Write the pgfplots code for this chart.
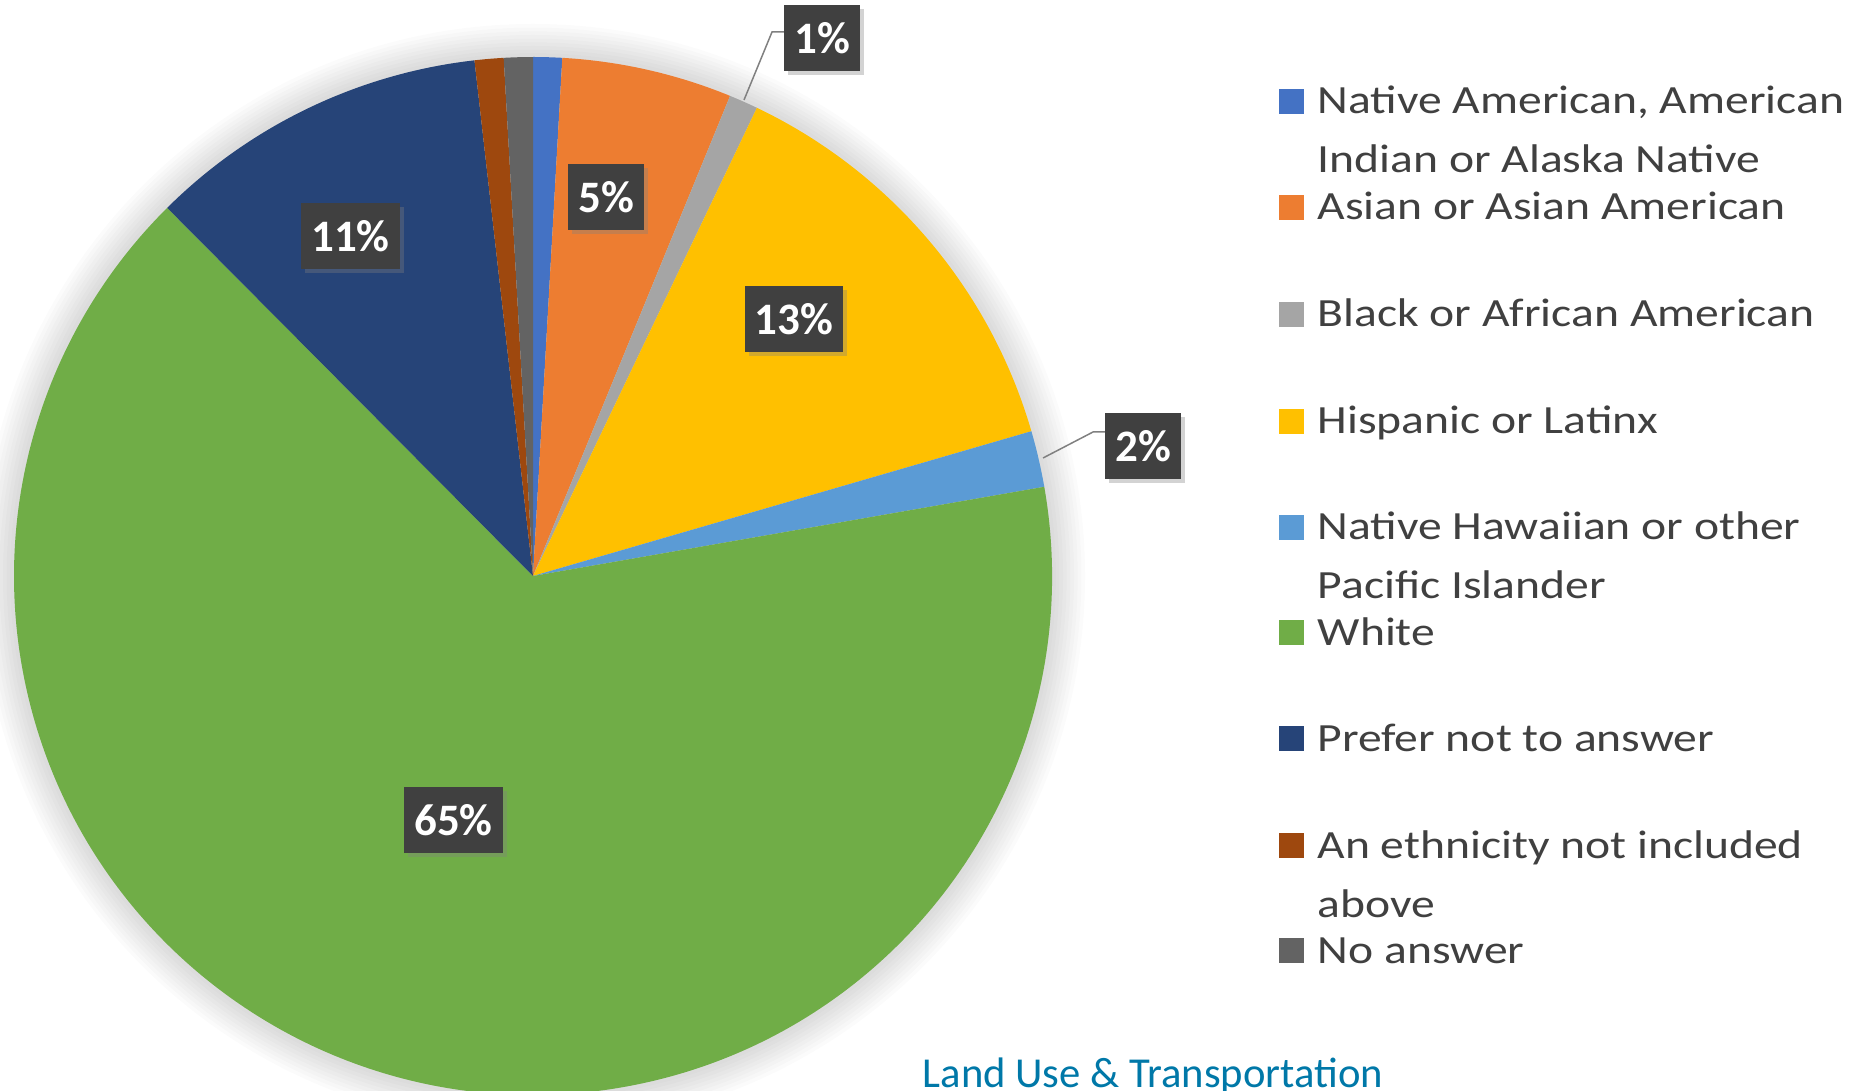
\documentclass[border=0pt]{standalone}
\usepackage{fontspec}
\setmainfont{Carlito}
\newfontfamily\legfont[FakeStretch=1.19]{Carlito}
\usepackage{pgfplots}
\pgfplotsset{compat=1.18}
\usepackage{pgfplotstable}
\usetikzlibrary{shadows}

% Office palette
\definecolor{s0}{HTML}{4472C4}
\definecolor{s1}{HTML}{ED7D31}
\definecolor{s2}{HTML}{A5A5A5}
\definecolor{s3}{HTML}{FFC000}
\definecolor{s4}{HTML}{5B9BD5}
\definecolor{s5}{HTML}{70AD47}
\definecolor{s6}{HTML}{264478}
\definecolor{s7}{HTML}{9E480E}
\definecolor{s8}{HTML}{636363}
\definecolor{legtext}{HTML}{404040}
\definecolor{lblbox}{HTML}{404040}
\definecolor{titlecol}{HTML}{0078A8}

% share of respondents (%), clockwise from 12 o'clock
\pgfplotstableread{
value
0.9
5.3
0.9
13.4
1.75
65.3
10.65
0.9
0.9
}\piedata

\def\cx{533}
\def\cy{514}
\def\R{155.7pt}

\tikzset{
  lbl/.style={fill=lblbox, text=white, font=\fontsize{13.5}{16}\selectfont\bfseries,
    minimum height=19.8pt, inner xsep=3pt, inner ysep=0pt,
    drop shadow={shadow xshift=1.2pt, shadow yshift=-1.2pt, opacity=0.35}},
  leg/.style={anchor=base west, inner sep=0pt, text=legtext, font=\legfont\fontsize{12}{14}\selectfont},
  lead/.style={draw=black!50, line width=0.45pt},
}

\newcommand{\legentry}[2]{%
  \fill[#1] (axis cs:1279,#2) rectangle (axis cs:1304,#2+25);
}

\begin{document}
\begin{tikzpicture}
\begin{axis}[
    width=559.2pt, height=327pt, scale only axis,
    xmin=0, xmax=1864, ymin=0, ymax=1090,
    hide axis,
    at={(0,0)}, anchor=south west,
]
\coordinate (SW) at (axis cs:0,0);
\coordinate (NE) at (axis cs:1864,1090);

% soft shadow around the pie
\pgfplotsforeachungrouped \k in {1,...,9}{%
  \pgfmathsetmacro\rr{155.7+1.1*\k}
  \edef\temp{\noexpand\fill[black, opacity=0.016] (axis cs:\cx,\cy) circle[radius=\rr pt];}
  \temp
}

% slices
\def\acc{0}
\pgfplotsforeachungrouped \i in {0,...,8}{%
  \pgfplotstablegetelem{\i}{value}\of\piedata
  \let\v\pgfplotsretval
  \pgfmathsetmacro\a{90-3.6*\acc}
  \pgfmathsetmacro\b{90-3.6*(\acc+\v)}
  \pgfmathsetmacro\acc{\acc+\v}
  \edef\temp{\noexpand\fill[s\i] (axis cs:\cx,\cy) -- ++(\a:\R) arc[start angle=\a, end angle=\b, radius=\R] -- cycle;}
  \temp
}

% leader lines
\draw[lead] (axis cs:744,990) -- (axis cs:772,1058) -- (axis cs:784,1058);
\draw[lead] (axis cs:1043,632) -- (axis cs:1093,658) -- (axis cs:1105,658);

% data labels
\node[lbl] at (axis cs:822,1051.5) {1\%};
\node[lbl] at (axis cs:606,893) {5\%};
\node[lbl] at (axis cs:794,771) {13\%};
\node[lbl] at (axis cs:1143,644) {2\%};
\node[lbl] at (axis cs:350.5,853.5) {11\%};
\node[lbl] at (axis cs:453.5,270) {65\%};

% legend
\legentry{s0}{976}
\node[leg] at (axis cs:1317,976) {Native American, American};
\node[leg] at (axis cs:1317,917) {Indian or Alaska Native};
\legentry{s1}{870}
\node[leg] at (axis cs:1317,870) {Asian or Asian American};
\legentry{s2}{763}
\node[leg] at (axis cs:1317,763) {Black or African American};
\legentry{s3}{656}
\node[leg] at (axis cs:1317,656) {Hispanic or Latinx};
\legentry{s4}{550}
\node[leg] at (axis cs:1317,550) {Native Hawaiian or other};
\node[leg] at (axis cs:1317,492) {Pacific Islander};
\legentry{s5}{445}
\node[leg] at (axis cs:1317,445) {White};
\legentry{s6}{339}
\node[leg] at (axis cs:1317,339) {Prefer not to answer};
\legentry{s7}{232}
\node[leg] at (axis cs:1317,232) {An ethnicity not included};
\node[leg] at (axis cs:1317,173) {above};
\legentry{s8}{127}
\node[leg] at (axis cs:1317,127) {No answer};

% caption
\node[anchor=base west, inner sep=0pt, text=titlecol, font=\fontsize{12.8}{15}\selectfont]
  at (axis cs:922,3) {Land Use \& Transportation};
\end{axis}
\pgfresetboundingbox
\path[use as bounding box] (SW) rectangle (NE);
\end{tikzpicture}
\end{document}
